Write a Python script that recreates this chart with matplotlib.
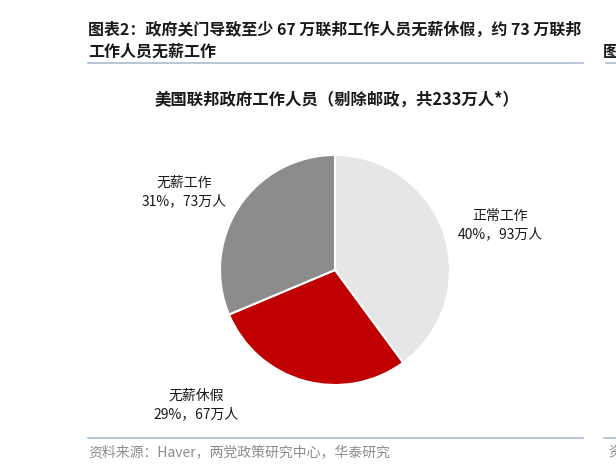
import matplotlib
matplotlib.use("Agg")
import matplotlib.pyplot as plt

plt.rcParams['font.family'] = ['Noto Sans CJK SC', 'DejaVu Sans']

# Data
categories = ["正常工作", "无薪休假", "无薪工作"]
people_wan = [93, 67, 73]          # 万人
percents = [40, 29, 31]            # %
colors = ["#e6e6e6", "#c00000", "#8c8c8c"]

heading1 = "图表2：政府关门导致至少 67 万联邦工作人员无薪休假，约 73 万联邦"
heading2 = "工作人员无薪工作"
chart_title = "美国联邦政府工作人员（剔除邮政，共233万人*）"
source = "资料来源：Haver，两党政策研究中心，华泰研究"

W, H = 616, 468
fig = plt.figure(figsize=(W / 100, H / 100), dpi=100)

# overlay axes in pixel coords
ov = fig.add_axes([0, 0, 1, 1])
ov.set_xlim(0, W)
ov.set_ylim(H, 0)
ov.axis("off")

ov.text(88, 30, heading1, fontsize=11.5, fontweight="bold", va="center", ha="left", color="#1a1a1a")
ov.text(88, 52, heading2, fontsize=11.5, fontweight="bold", va="center", ha="left", color="#1a1a1a")
ov.plot([88, 583], [63, 63], color="#a9bcd0", lw=1.2)
# neighbouring page fragments at right edge
ov.text(603, 52, "图", fontsize=11.5, fontweight="bold", va="center", ha="left", color="#1a1a1a")
ov.plot([606, 616], [63, 63], color="#a9bcd0", lw=1.2)

ov.text(337, 100, chart_title, fontsize=11.8, fontweight="bold", va="center", ha="center", color="#1a1a1a")

ov.plot([88, 583], [438, 438], color="#a9bcd0", lw=1.2)
ov.plot([604, 616], [438, 438], color="#a9bcd0", lw=1.2)
ov.text(88, 452, source, fontsize=10, va="center", ha="left", color="#8c8c8c")
ov.text(608, 452, "资", fontsize=10, va="center", ha="left", color="#8c8c8c")

# pie axes: center (335, 270), radius 115 px
cx, cy, r = 335, 270, 115
pax = fig.add_axes([(cx - r) / W, (H - cy - r) / H, 2 * r / W, 2 * r / H])
pax.pie(people_wan, colors=colors, startangle=90, counterclock=False,
        wedgeprops=dict(edgecolor="white", linewidth=1.5))
pax.set_xlim(-1, 1)
pax.set_ylim(-1, 1)
pax.set_aspect("equal")

label_pos = {"正常工作": (1.435, 0.39), "无薪休假": (-1.209, -1.174), "无薪工作": (-1.313, 0.678)}
for cat, val, pct in zip(categories, people_wan, percents):
    x, y = label_pos[cat]
    pax.text(x, y, f"{cat}\n{pct}%，{val}万人", ha="center", va="center",
             fontsize=10, linespacing=1.45, color="#1a1a1a", clip_on=False)

fig.savefig("out.png", dpi=100)
